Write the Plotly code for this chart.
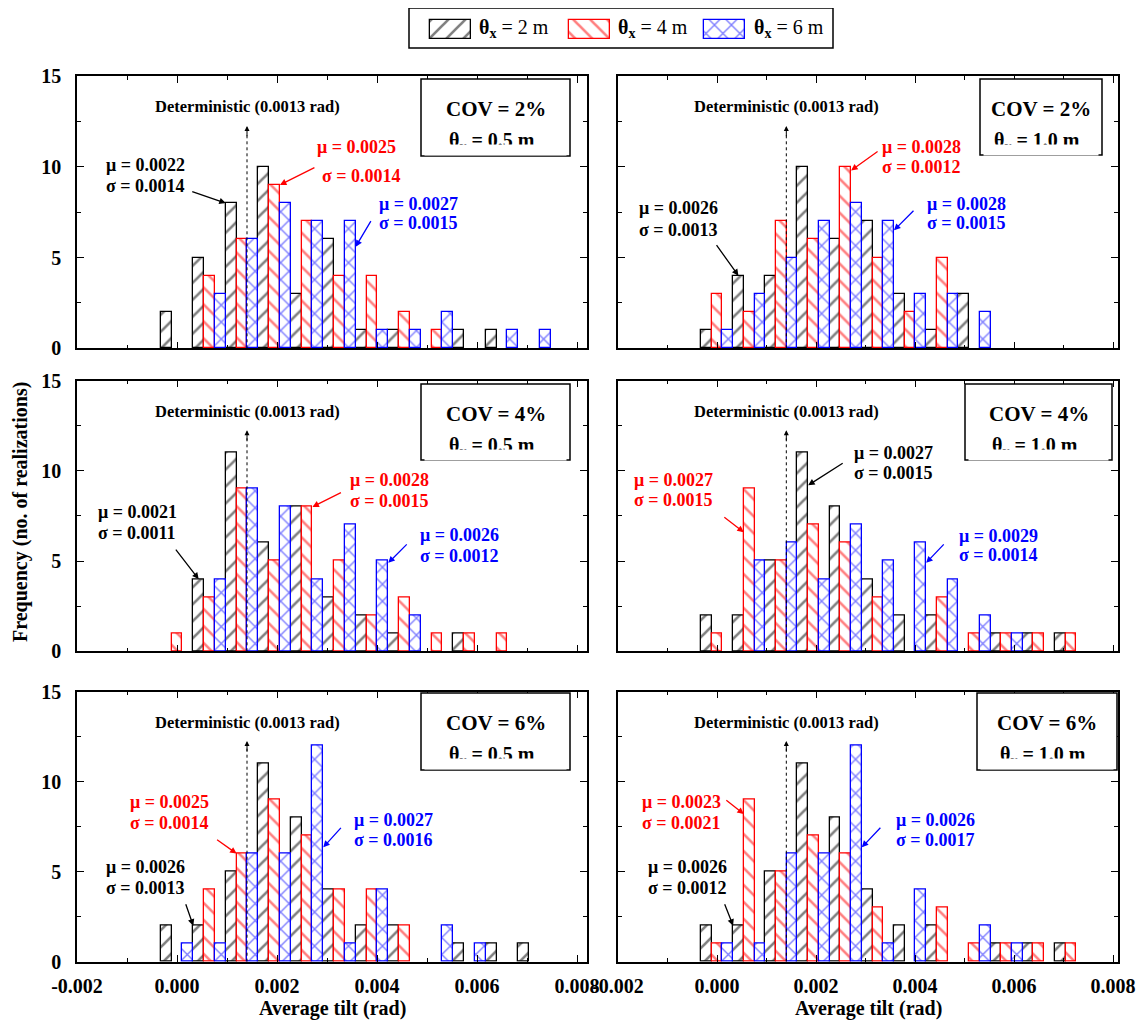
import plotly.graph_objects as go

# ---------------- data ----------------
BIN_WIDTH = 0.00065          # histogram bin width (rad)
DET_TILT = 0.0013            # deterministic tilt (label)
DET_LINE_X = 0.0014          # where the dotted marker is drawn
SERIES = ["θx = 2 m", "θx = 4 m", "θx = 6 m"]
SERIES_HTML = ["<b>θ<sub>x</sub></b> = 2 m", "<b>θ<sub>x</sub></b> = 4 m", "<b>θ<sub>x</sub></b> = 6 m"]
COLORS = ["#000000", "#ff0000", "#0000ff"]
PATTERNS = ["/", "\\", "x"]

X_TICKS = [-0.002, 0.000, 0.002, 0.004, 0.006, 0.008]
X_TICK_LABELS = ["-0.002", "0.000", "0.002", "0.004", "0.006", "0.008"]
Y_TICKS = [0, 5, 10, 15]

# counts per bin k (bin centre = k * BIN_WIDTH)
p1_black = [2, 5, 8, 10, 3, 6, 1, 1, 0, 1, 1, 0]
p1_red   = [0, 4, 6, 9, 7, 4, 4, 2, 1, 0, 0, 0]
p1_blue  = [0, 3, 6, 8, 7, 7, 1, 1, 2, 0, 1, 1]

p2_black = [1, 4, 4, 10, 6, 7, 3, 1, 3]
p2_red   = [3, 2, 7, 6, 10, 5, 2, 5, 0]
p2_blue  = [1, 3, 5, 7, 8, 7, 3, 3, 2]

p3_black = [0, 4, 11, 6, 8, 3, 2, 1, 0, 1, 0]
p3_red   = [1, 3, 9, 5, 8, 5, 2, 3, 1, 1, 1]
p3_blue  = [0, 4, 9, 8, 4, 7, 5, 2, 0, 0, 0]

p4_black = [2, 2, 5, 11, 8, 4, 2, 2, 0, 1, 1, 1]
p4_red   = [1, 9, 5, 7, 6, 3, 0, 3, 1, 1, 1, 1]
p4_blue  = [0, 5, 6, 4, 7, 5, 6, 4, 2, 1, 0, 0]

p5_black = [2, 2, 5, 11, 8, 4, 2, 2, 0, 1, 1, 1]
p5_red   = [0, 4, 6, 9, 7, 4, 4, 2, 0, 0, 0, 0]
p5_blue  = [1, 1, 6, 6, 12, 1, 4, 0, 2, 1, 0, 0]

p6_black = [2, 2, 5, 11, 8, 4, 2, 2, 0, 1, 1, 1]
p6_red   = [1, 9, 5, 7, 6, 3, 0, 3, 1, 1, 1, 1]
p6_blue  = [1, 1, 6, 6, 12, 1, 4, 0, 2, 1, 0, 0]

PANELS = [
    [p1_black, p1_red, p1_blue],
    [p2_black, p2_red, p2_blue],
    [p3_black, p3_red, p3_blue],
    [p4_black, p4_red, p4_blue],
    [p5_black, p5_red, p5_blue],
    [p6_black, p6_red, p6_blue],
]
COV = [2, 2, 4, 4, 6, 6]
THETA_Y = ["0.5", "1.0", "0.5", "1.0", "0.5", "1.0"]
MU = [["0.0022", "0.0025", "0.0027"], ["0.0026", "0.0028", "0.0028"],
      ["0.0021", "0.0028", "0.0026"], ["0.0027", "0.0027", "0.0029"],
      ["0.0026", "0.0025", "0.0027"], ["0.0026", "0.0023", "0.0026"]]
SIGMA = [["0.0014", "0.0014", "0.0015"], ["0.0013", "0.0012", "0.0015"],
         ["0.0011", "0.0015", "0.0012"], ["0.0015", "0.0015", "0.0014"],
         ["0.0013", "0.0014", "0.0016"], ["0.0012", "0.0021", "0.0017"]]

# ---------------- layout helpers ----------------
PAGE_W, PAGE_H = 1146, 1030
PAGE_OFF = 8                      # default body margin of the html page
W, H = PAGE_W - 2 * PAGE_OFF, PAGE_H - 2 * PAGE_OFF
FONT = "Liberation Serif"
COL_PX = [(77, 587), (618, 1118)]
ROW_PX = [(76, 348.3), (380.6, 651.3), (691.5, 961.7)]
X_RANGES = [[-0.002, 0.0082], [-0.002, 0.0081]]

# label placement: (mu_left, mu_y, sig_left, sig_y, bin k, edge, head_y, ax, ay)
LABEL_POS = [
    [(104, 165, 104, 186, 2, -1, 8.0, -35, -12),
     (315, 147, 320, 176, 3, 1, 9.0, 36, -18),
     (377, 204, 377, 223, 5, 1, 5.6, 16, -27)],
    [(637, 208, 637, 230, 1, 0, 4.0, -23, -32),
     (880, 147, 880, 167, 4, 1, 9.8, 28, -20),
     (925, 204, 925, 223, 5, 1, 6.5, 21, -21)],
    [(96, 512, 96, 533, 1, 0, 4.0, -24, -31),
     (348, 480, 348, 501, 4, 1, 8.0, 30, -15),
     (418, 535, 418, 556, 6, 1, 4.9, 20, -20)],
    [(852, 453, 852, 473, 3, 1, 9.2, 36, -23),
     (632, 480, 632, 500, 1, -1, 6.6, -21, -16),
     (957, 536, 957, 555, 6, 1, 4.9, 19, -20)],
    [(104, 867, 104, 888, 1, -1, 2.0, -8, -23),
     (128, 802, 128, 823, 2, -1, 6.0, -21, -15),
     (352, 820, 352, 840, 4, 1, 6.35, 19, -21)],
    [(646, 867, 646, 888, 1, -1, 2.0, -9, -23),
     (640, 802, 640, 823, 1, -1, 8.2, -19, -15),
     (894, 820, 894, 840, 4, 1, 6.35, 20, -21)],
]
BOX_PX = [(421, 79, 570, 156), (980, 79, 1102, 155),
          (421, 384, 570, 460), (965, 384, 1112, 460),
          (421, 693, 570, 770), (977, 693, 1117, 770)]


def fx(px):
    return (px - PAGE_OFF) / W


def fy(py):
    return 1 - (py - PAGE_OFF) / H


fig = go.Figure()
annotations = []
shapes = []
layout = {}


def text_px(text, px, py, size, color="black", xanchor="left", yanchor="middle", angle=0):
    annotations.append(dict(text=text, x=fx(px), y=fy(py), xref="paper", yref="paper",
                            xanchor=xanchor, yanchor=yanchor, showarrow=False, textangle=angle,
                            font=dict(family=FONT, size=size, color=color)))


PATTERN_STYLE = dict(bgcolor="white", size=12, solidity=0.22)

w = BIN_WIDTH / 3
for i, counts in enumerate(PANELS):
    r, c = divmod(i, 2)
    xa = "x" if i == 0 else f"x{i+1}"
    ya = "y" if i == 0 else f"y{i+1}"
    for s in range(3):
        vals = [v if v else None for v in counts[s]]
        fig.add_trace(go.Bar(
            x=[k * BIN_WIDTH for k in range(len(vals))], y=vals, xaxis=xa, yaxis=ya,
            name=SERIES[s], showlegend=False,
            marker=dict(color="white", line=dict(color=COLORS[s], width=1.3),
                        pattern=dict(shape=PATTERNS[s], fgcolor=COLORS[s], **PATTERN_STYLE)),
        ))
    x0, x1 = COL_PX[c]
    y0, y1 = ROW_PX[r]
    tickfont = dict(family=FONT, size=20, color="black", weight="bold")
    layout["xaxis" if i == 0 else f"xaxis{i+1}"] = dict(
        domain=[fx(x0), fx(x1)], anchor=ya, range=X_RANGES[c],
        tickmode="array", tickvals=X_TICKS, ticktext=X_TICK_LABELS,
        showticklabels=(r == 2), ticks="inside", ticklen=7, tickwidth=1.2, tickcolor="black",
        minor=dict(tickmode="linear", tick0=-0.002, dtick=0.001, ticks="inside", ticklen=4,
                   tickcolor="black", showgrid=False),
        showline=True, linecolor="black", linewidth=1.5, mirror="ticks",
        showgrid=False, zeroline=False, tickfont=tickfont, ticklabelstandoff=6,
        ticklabeloverflow="allow", automargin=False)
    layout["yaxis" if i == 0 else f"yaxis{i+1}"] = dict(
        domain=[fy(y1), fy(y0)], anchor=xa, range=[0, 15],
        tickmode="array", tickvals=Y_TICKS,
        showticklabels=(c == 0), ticks="inside", ticklen=7, tickwidth=1.2, tickcolor="black",
        minor=dict(tickmode="linear", tick0=0, dtick=2.5, ticks="inside", ticklen=4,
                   tickcolor="black", showgrid=False),
        showline=True, linecolor="black", linewidth=1.5, mirror="ticks",
        showgrid=False, zeroline=False, tickfont=tickfont, ticklabelstandoff=10,
        automargin=False)

    # deterministic marker
    shapes.append(dict(type="line", xref=xa, yref=ya, x0=DET_LINE_X, x1=DET_LINE_X, y0=0, y1=11.9,
                       line=dict(color="black", width=1, dash="dot")))
    annotations.append(dict(x=DET_LINE_X, y=12.25, xref=xa, yref=ya, ax=DET_LINE_X, ay=11.6,
                            axref=xa, ayref=ya, text="", showarrow=True, arrowhead=2,
                            arrowsize=1, arrowwidth=1, arrowcolor="black", standoff=0))
    annotations.append(dict(x=DET_LINE_X, y=13.3, xref=xa, yref=ya, showarrow=False,
                            text=f"<b>Deterministic ({DET_TILT:.4f} rad)</b>",
                            font=dict(family=FONT, size=16.5, color="black")))

    # COV box (second line is cut off at the bottom as in the source figure)
    bx0, by0, bx1, by1 = BOX_PX[i]
    shapes.append(dict(type="rect", xref="paper", yref="paper", x0=fx(bx0), x1=fx(bx1),
                       y0=fy(by1), y1=fy(by0), line=dict(color="black", width=1.5),
                       fillcolor="white", layer="above"))
    cx = (bx0 + bx1) / 2
    text_px(f"<b>COV = {COV[i]}%</b>", cx, by0 + 30, 21, xanchor="center")
    text_px(f"<b>θ<sub>y</sub> = {THETA_Y[i]} m</b>", cx - 4, by0 + 62, 20, xanchor="center")
    annotations.append(dict(text=" ", x=fx(cx), y=fy(by0 + 70.5), xref="paper", yref="paper",
                            xanchor="center", yanchor="middle", showarrow=False,
                            width=bx1 - bx0 - 8, height=10, bgcolor="white", borderpad=0,
                            font=dict(family=FONT, size=6)))

    # mu / sigma labels with arrows
    for s in range(3):
        mlx, mly, slx, sly, k, edge, hy, ax, ay = LABEL_POS[i][s]
        text_px(f"<b>μ = {MU[i][s]}</b>", mlx, mly, 18, color=COLORS[s])
        text_px(f"<b>σ = {SIGMA[i][s]}</b>", slx, sly, 18, color=COLORS[s])
        hx = k * BIN_WIDTH + (s - 1) * w + edge * w / 2
        annotations.append(dict(x=hx, y=hy, xref=xa, yref=ya, ax=ax, ay=ay, text="",
                                showarrow=True, arrowhead=2, arrowsize=1, arrowwidth=1.3,
                                arrowcolor=COLORS[s], standoff=0))

# axis titles
for c in range(2):
    text_px("<b>Average tilt (rad)</b>", (COL_PX[c][0] + COL_PX[c][1]) / 2, 1008, 20,
            xanchor="center")
text_px("<b>Frequency (no. of realizations)</b>", 20, 512, 20, xanchor="center", angle=-90)

# legend (swatches drawn as bars in a hidden overlay axis)
LEG_BOX = (409, 8, 833, 48)
SWATCH_X = [450.3, 589.0, 724.5]
TEXT_X = [477, 616, 752]
for s in range(3):
    fig.add_trace(go.Bar(
        x=[SWATCH_X[s]], y=[-19.3], base=39.3, width=41, offset=-20.5,
        xaxis="x7", yaxis="y7", showlegend=False, name=SERIES[s], hoverinfo="skip",
        marker=dict(color="white", line=dict(color=COLORS[s], width=1.3),
                    pattern=dict(shape=PATTERNS[s], fgcolor=COLORS[s], **PATTERN_STYLE))))
    text_px(SERIES_HTML[s], TEXT_X[s], 29, 20)
layout["xaxis7"] = dict(domain=[fx(LEG_BOX[0]), fx(LEG_BOX[2])], range=[LEG_BOX[0], LEG_BOX[2]],
                        visible=False, anchor="y7", fixedrange=True)
layout["yaxis7"] = dict(domain=[fy(LEG_BOX[3]), fy(LEG_BOX[1])], range=[LEG_BOX[3], LEG_BOX[1]],
                        visible=False, anchor="x7", fixedrange=True)
shapes.append(dict(type="rect", xref="paper", yref="paper", x0=fx(LEG_BOX[0]), x1=fx(LEG_BOX[2]),
                   y0=fy(LEG_BOX[3]), y1=fy(LEG_BOX[1]), line=dict(color="black", width=1.5)))

fig.update_layout(
    width=W, height=H, margin=dict(l=0, r=0, t=0, b=0, autoexpand=False),
    paper_bgcolor="white", plot_bgcolor="white",
    barmode="group", bargap=0, bargroupgap=0,
    font=dict(family=FONT, color="black"),
    showlegend=False, annotations=annotations, shapes=shapes, **layout)

fig.write_html("out.html")
